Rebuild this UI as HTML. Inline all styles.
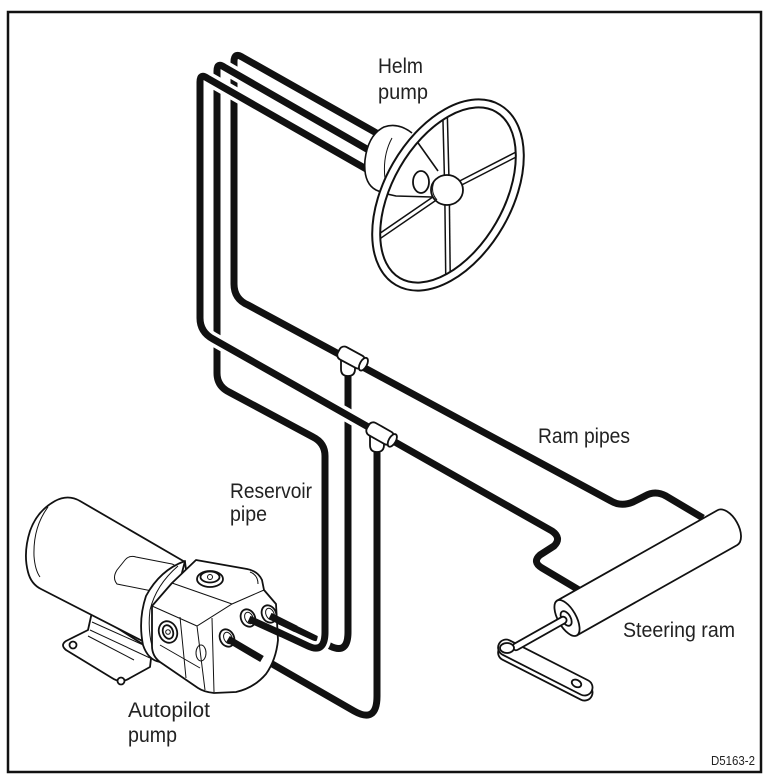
<!DOCTYPE html>
<html><head><meta charset="utf-8">
<style>
html,body{margin:0;padding:0;background:#fff;}
svg{display:block;}
.h{fill:none;stroke:#fff;stroke-width:14;stroke-linejoin:round;}
.p{fill:none;stroke:#111;stroke-width:7;stroke-linejoin:round;}
.w{fill:#fff;stroke:#111;stroke-width:1.8;stroke-linejoin:round;}
.t{fill:none;stroke:#111;stroke-width:1;}
.m{fill:none;stroke:#111;stroke-width:1.6;stroke-linejoin:round;}
text{font-family:"Liberation Sans",Arial,sans-serif;fill:#222;}
</style></head><body>
<svg width="767" height="780" viewBox="0 0 767 780" xmlns="http://www.w3.org/2000/svg">
<rect width="767" height="780" fill="#fff"/>

<!-- Pipes (back to front) -->
<path class="h" d="M380 135 L242 57 Q234 52 234 62 L234 284 Q234 299 248 305 L611 501 Q621 507 633 502 L645 496 Q655 490 666 496 L703 518"/>
<path class="p" d="M380 135 L242 57 Q234 52 234 62 L234 284 Q234 299 248 305 L611 501 Q621 507 633 502 L645 496 Q655 490 666 496 L703 518"/>

<path class="h" d="M348 366 L348 632 Q348 655 330 646 L269 616"/>
<path class="p" d="M348 366 L348 632 Q348 655 330 646 L269 616"/>

<path class="h" d="M372 152 L224 67 Q217 62 217 71 L217 373 Q217 386 229 392 L313 437 Q325 443 325 456 L325 632 Q325 654 308 646 L248 618"/>
<path class="p" d="M372 152 L224 67 Q217 62 217 71 L217 373 Q217 386 229 392 L313 437 Q325 443 325 456 L325 632 Q325 654 308 646 L248 618"/>

<path class="h" d="M368 170 L207 78 Q200 73 200 82 L200 318 Q200 332 213 339 L552 531 Q562 538 554 546 L540 555 Q532 562 542 568 L579 590"/>
<path class="p" d="M368 170 L207 78 Q200 73 200 82 L200 318 Q200 332 213 339 L552 531 Q562 538 554 546 L540 555 Q532 562 542 568 L579 590"/>

<path class="h" d="M377 442 L377 696 Q377 724 354 711 L227 638"/>
<path class="p" d="M377 442 L377 696 Q377 724 354 711 L227 638"/>

<!-- T fittings -->
<path class="w" d="M341 360 L341 369 Q341 376 348 376 Q355 376 355 369 L355 360 Z"/>
<g transform="translate(352,358) rotate(28.4)">
  <rect x="-15" y="-7" width="28" height="14" rx="5" class="w"/>
  <ellipse cx="13" cy="0" rx="3.5" ry="7" class="w"/>
</g>
<path class="w" d="M370 436 L370 445 Q370 452 377 452 Q384 452 384 445 L384 436 Z"/>
<g transform="translate(381,434) rotate(29.5)">
  <rect x="-15" y="-7" width="28" height="14" rx="5" class="w"/>
  <ellipse cx="13" cy="0" rx="3.5" ry="7" class="w"/>
</g>

<!-- Helm pump housing -->
<path d="M412 133 Q398 122 384 127 Q368 135 365 160 Q363 183 376 190 Q385 194 396 196 L432 197 L440 172 Z" fill="#fff"/>
<path class="m" d="M412 133 Q398 122 384 127 Q368 135 365 160 Q363 183 376 190 Q385 194 396 196 L432 197"/>
<path class="m" d="M416 140 L438 171"/>
<path class="t" d="M392 138 Q380 160 387 190"/>
<ellipse cx="421" cy="182" rx="8" ry="11" class="w" stroke-width="1.5"/>

<!-- Spokes -->
<g fill="none" stroke-linecap="butt">
  <line x1="447" y1="190" x2="445" y2="112" stroke="#111" stroke-width="6"/>
  <line x1="447" y1="190" x2="445" y2="112" stroke="#fff" stroke-width="3"/>
  <line x1="447" y1="190" x2="521" y2="152" stroke="#111" stroke-width="6"/>
  <line x1="447" y1="190" x2="521" y2="152" stroke="#fff" stroke-width="3"/>
  <line x1="447" y1="190" x2="448" y2="278" stroke="#111" stroke-width="6"/>
  <line x1="447" y1="190" x2="448" y2="278" stroke="#fff" stroke-width="3"/>
  <line x1="447" y1="190" x2="377" y2="238" stroke="#111" stroke-width="6"/>
  <line x1="447" y1="190" x2="377" y2="238" stroke="#fff" stroke-width="3"/>
</g>
<!-- Rim -->
<g transform="rotate(30 448 195)">
  <ellipse cx="448" cy="195" rx="59.5" ry="100" fill="none" stroke="#111" stroke-width="10"/>
  <ellipse cx="448" cy="195" rx="59.5" ry="100" fill="none" stroke="#fff" stroke-width="6"/>
</g>
<!-- Hub -->
<ellipse cx="447" cy="190" rx="16" ry="15" class="w"/>
<path class="t" d="M434 182 Q430 192 437 200"/>

<!-- Autopilot pump: bracket -->
<path class="w" d="M92 612 L88 630 L66 641 Q60 645 66 650 L112 678 Q121 684 130 678 L150 667 L152 650 Z"/>
<path class="t" d="M92 622 L150 648 M90 630 L150 658 M88 636 L134 660"/>
<circle cx="73" cy="645" r="3.5" class="w" stroke-width="1.4"/>
<circle cx="121" cy="681" r="3.5" class="w" stroke-width="1.4"/>
<!-- motor -->
<path class="w" stroke-width="2" d="M80 501 Q68 494 55 501 Q37 511 30 531 Q23 553 28 572 Q31 584 41 589 L160 650 L190 600 L185 562 Z"/>
<path class="t" d="M48 507 Q33 527 34 556 Q35 570 40 577"/>
<path class="t" stroke-width="1.2" d="M117 584 Q112 578 117 570 L125 560 Q129 555 136 557 L172 564 Q178 566 175 572 L166 589 Q163 594 157 592 Z"/>
<!-- collar -->
<path class="w" d="M185 561 Q160 570 146 596 Q138 620 143 645 Q148 660 160 662 L175 600 Z"/>
<path class="t" d="M178 566 Q156 585 150 610 Q147 635 155 655"/>
<!-- housing -->
<path class="w" stroke-width="2" d="M152 606 L172 583 L196 560 L247 569 Q258 571 262 580 L264 590 L276 604 L278 640 Q276 660 266 674 Q254 688 236 692 L214 693 Q204 692 198 688 L160 662 Q152 656 152 646 Z"/>
<path class="t" d="M152 606 L197 626 L232 604 L264 590 M172 583 L232 604 M197 626 L205 690 M212 618 L214 692 M180 617 L186 678 M160 645 L200 668 M250 572 Q258 575 258 584"/>
<ellipse cx="201" cy="653" rx="5" ry="8" class="t"/>
<!-- top bolt -->
<ellipse cx="210" cy="579" rx="13" ry="8" class="w" stroke-width="1.4"/>
<ellipse cx="210" cy="577" rx="9.5" ry="5.5" class="w" stroke-width="1.2"/>
<circle cx="210" cy="577" r="2.5" class="t"/>
<!-- side bolt -->
<ellipse cx="168" cy="632" rx="9" ry="11" transform="rotate(-20 168 632)" class="w" stroke-width="1.4"/>
<ellipse cx="168" cy="632" rx="5" ry="7" transform="rotate(-20 168 632)" class="w" stroke-width="1.2"/>
<circle cx="168" cy="632" r="2.3" class="t"/>
<!-- ports -->
<g class="w" stroke-width="1.5">
  <ellipse cx="248" cy="618" rx="7" ry="9" transform="rotate(-25 248 618)"/>
  <ellipse cx="269" cy="614" rx="7" ry="9" transform="rotate(-25 269 614)"/>
  <ellipse cx="227" cy="638" rx="7" ry="9" transform="rotate(-25 227 638)"/>
</g>
<g class="t">
  <ellipse cx="249" cy="618" rx="4" ry="6" transform="rotate(-25 249 618)"/>
  <ellipse cx="270" cy="614" rx="4" ry="6" transform="rotate(-25 270 614)"/>
  <ellipse cx="228" cy="638" rx="4" ry="6" transform="rotate(-25 228 638)"/>
</g>
<g stroke="#111" stroke-width="7" fill="none">
  <path d="M249 619 L282 634"/>
  <path d="M270 616 L296 629"/>
  <path d="M228 639 L262 659"/>
</g>

<!-- Steering ram -->
<g transform="translate(507,648) rotate(27)">
  <rect x="-6.7" y="-3.5" width="104" height="16" rx="8" class="w"/>
  <rect x="-9" y="-8" width="104" height="16" rx="8" class="w"/>
  <ellipse cx="78" cy="0" rx="5" ry="3.5" class="w" stroke-width="1.4"/>
</g>
<g transform="translate(567,618) rotate(-29.4)">
  <path class="w" stroke-width="2" d="M0 -20 L184 -20 A11 20 0 0 1 184 20 L0 20 Z"/>
  <ellipse cx="0" cy="0" rx="9" ry="20" class="w"/>
  <ellipse cx="-1" cy="0" rx="4.5" ry="8" class="w" stroke-width="1.4"/>
  <rect x="-62" y="-3.5" width="61" height="7" rx="3.5" class="w" stroke-width="1.5"/>
</g>
<ellipse cx="507" cy="648" rx="7" ry="5" class="w" stroke-width="1.4"/>

<!-- Labels -->
<text x="378" y="73" font-size="21" textLength="45" lengthAdjust="spacingAndGlyphs">Helm</text>
<text x="378" y="99" font-size="21" textLength="50" lengthAdjust="spacingAndGlyphs">pump</text>
<text x="230" y="498" font-size="21" textLength="82" lengthAdjust="spacingAndGlyphs">Reservoir</text>
<text x="230" y="521" font-size="21" textLength="37" lengthAdjust="spacingAndGlyphs">pipe</text>
<text x="128" y="717" font-size="21" textLength="82" lengthAdjust="spacingAndGlyphs">Autopilot</text>
<text x="128" y="742" font-size="21" textLength="49" lengthAdjust="spacingAndGlyphs">pump</text>
<text x="538" y="443" font-size="21" textLength="92" lengthAdjust="spacingAndGlyphs">Ram pipes</text>
<text x="623" y="637" font-size="21" textLength="112" lengthAdjust="spacingAndGlyphs">Steering ram</text>
<text x="711" y="765" font-size="13" textLength="44" lengthAdjust="spacingAndGlyphs">D5163-2</text>

<!-- Border -->
<rect x="8" y="12" width="753" height="760" fill="none" stroke="#111" stroke-width="2.5"/>
</svg>
</body></html>
